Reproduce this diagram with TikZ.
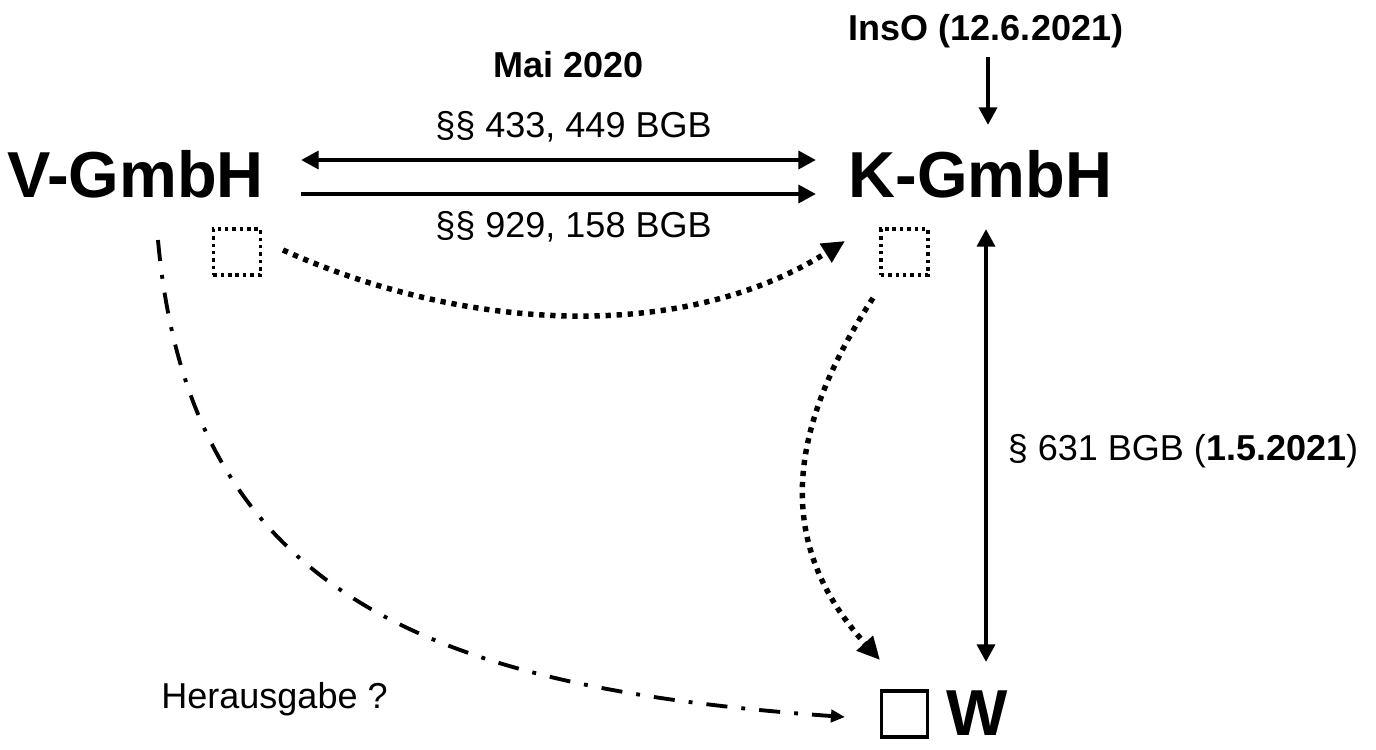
\documentclass[tikz,border=0pt]{standalone}
\usepackage{fontspec}
\setmainfont{Liberation Sans}
\usetikzlibrary{arrows.meta}
\tikzset{
  big/.style={font=\fontsize{37}{40}\selectfont\bfseries, inner sep=0pt, anchor=base},
  small/.style={font=\fontsize{20.5}{24}\selectfont, inner sep=0pt, anchor=base},
  smallbold/.style={small, font=\fontsize{20.5}{24}\selectfont\bfseries},
  solidarrow/.style={line width=2.8pt, -{Triangle[length=10pt,width=10pt]}},
  bothsolid/.style={line width=2.8pt, {Triangle[length=10pt,width=10pt]}-{Triangle[length=10pt,width=10pt]}},
  dotarrow/.style={line width=3.1pt, dash pattern=on 3pt off 3.3pt, -{Triangle[length=13pt,width=12pt]}},
  dashdotarrow/.style={line width=2.2pt, dash pattern=on 12pt off 8pt on 2.2pt off 8pt, -{Triangle[length=8pt,width=7pt]}},
  dotbox/.style={draw, line width=2pt, dash pattern=on 2pt off 2.2pt, minimum width=27pt, minimum height=26pt, inner sep=0pt},
  solidbox/.style={draw, line width=2pt, minimum width=26pt, minimum height=26pt, inner sep=0pt}
}
\begin{document}
\begin{tikzpicture}[x=0.5692pt, y=-0.5692pt]
\useasboundingbox (0,0) rectangle (1376,749);
% texts
\node[big] (V) at (135.5,197) {V-GmbH};
\node[big] (K) at (980.5,197) {K-GmbH};
\node[smallbold] (InsO) at (986,40) {InsO (12.6.2021)};
\node[smallbold] (Mai) at (568.5,77) {Mai 2020};
\node[small] (t433) at (573.5,137) {§§ 433, 449 BGB};
\node[small] (t929) at (573.5,237) {§§ 929, 158 BGB};
\node[small] (t631) at (1183,460) {§ 631 BGB (\textbf{1.5.2021})};
\node[small] (her) at (274.5,708) {Herausgabe ?};
\node[big] (W) at (977,735) {W};
% boxes
\node[dotbox] (bl) at (237,252) {};
\node[dotbox] (br) at (904.5,252) {};
\node[solidbox] (bw) at (904.5,714) {};
% connector endpoints
\coordinate (a1) at (301,160);
\coordinate (a2) at (816,160);
\coordinate (b1) at (301,194);
\coordinate (b2) at (816,194);
\coordinate (i1) at (988,57);
\coordinate (i2) at (988,125);
\coordinate (v1) at (986,229);
\coordinate (v2) at (986,662);
\coordinate (d1) at (283,250);
\coordinate (d2) at (845,241);
\coordinate (e1) at (873,298);
\coordinate (e2) at (880,660);
\coordinate (f1) at (158,240);
\coordinate (f2) at (845,717);
% connectors
\draw[bothsolid] (a1) -- (a2);
\draw[solidarrow] (b1) -- (b2);
\draw[solidarrow] (i1) -- (i2);
\draw[bothsolid] (v1) -- (v2);
\draw[dotarrow] (d1) .. controls (460,330) and (680,345) .. (d2);
\draw[dotarrow] (e1) .. controls (780,440) and (780,550) .. (e2);
\draw[dashdotarrow] (f1) .. controls (190,600) and (440,688) .. (f2);
\end{tikzpicture}
\end{document}
